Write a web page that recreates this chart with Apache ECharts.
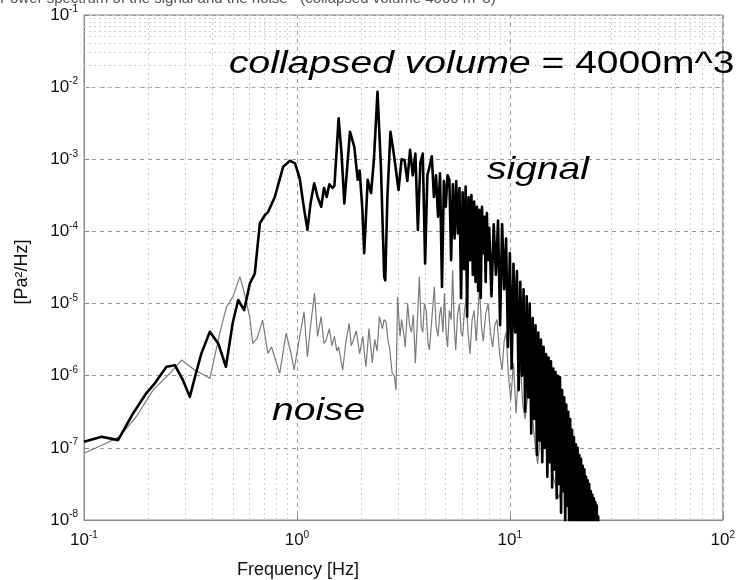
<!DOCTYPE html>
<html>
<head>
<meta charset="utf-8">
<script src="https://cdn.jsdelivr.net/npm/echarts@6/dist/echarts.min.js"></script>
<style>
html,body{margin:0;padding:0;background:#fff;}
#chart{width:738px;height:580px;}
</style>
</head>
<body>
<div id="chart"></div>
<script>
// ---- data (frequency in Hz, PSD in Pa^2/Hz) ----
const signalFreq = [
  0.1, 0.121, 0.1445, 0.17, 0.196, 0.215, 0.244, 0.267, 0.29, 0.314,
  0.336, 0.356, 0.39, 0.427, 0.464, 0.5, 0.53, 0.565, 0.601, 0.634,
  0.67, 0.708, 0.733, 0.788, 0.862, 0.927, 0.98, 1.03, 1.07, 1.12,
  1.16, 1.206, 1.25, 1.3, 1.34, 1.38, 1.42, 1.47, 1.5, 1.57,
  1.62, 1.67, 1.775, 1.86, 1.93, 1.97, 2.03, 2.07, 2.15, 2.23,
  2.3, 2.39, 2.48, 2.57, 2.6, 2.66, 2.75, 2.85, 2.92,
  3.0, 3.1, 3.2, 3.3, 3.4, 3.5, 3.6, 3.7, 3.8, 3.9,
  4.0, 4.1, 4.2, 4.3, 4.4, 4.5, 4.6, 4.7, 4.8, 4.9,
  5.0, 5.1, 5.2, 5.3, 5.4, 5.5, 5.6, 5.7, 5.8, 5.9,
  6.0, 6.1, 6.2, 6.3, 6.4, 6.5, 6.6, 6.7, 6.8, 6.9,
  7.0, 7.1, 7.2, 7.3, 7.4, 7.5, 7.6, 7.7, 7.8, 7.9,
  8.0, 8.2, 8.4, 8.6, 8.8, 9.0, 9.2, 9.4, 9.6, 9.8,
  10.0, 10.2, 10.4, 10.6, 10.8, 11.0, 11.2, 11.4, 11.6, 11.8,
  12.0, 12.2, 12.4, 12.6, 12.8, 13.0, 13.2, 13.4, 13.6, 13.8,
  14.0, 14.2, 14.4, 14.6, 14.8, 15.0, 15.2, 15.4, 15.6, 15.8,
  16.0, 16.2, 16.4, 16.6, 16.8, 17.0, 17.2, 17.4, 17.6, 17.8,
  18.0, 18.2, 18.4, 18.6, 18.8, 19.0, 19.2, 19.4, 19.6, 19.8,
  20.0, 20.2, 20.4, 20.6, 20.8, 21.0, 21.2, 21.4, 21.6, 21.8,
  22.0, 22.2, 22.4, 22.6, 22.8, 23.0, 23.2, 23.4, 23.6, 23.8,
  24.0, 24.2, 24.4, 24.6, 24.8, 25.0, 25.2, 25.4, 25.6, 25.8,
  26.0, 26.2, 26.4, 26.6
];
const signalPSD = [
  1.22e-7, 1.43e-7, 1.28e-7, 3.0e-7, 5.7e-7, 7.85e-7, 1.33e-6, 1.4e-6, 9.0e-7, 5.1e-7,
  1.1e-6, 2.04e-6, 4.07e-6, 2.8e-6, 1.33e-6, 5.5e-6, 1.12e-5, 8.1e-6, 1.9e-5, 2.6e-5,
  1.3e-4, 1.69e-4, 1.87e-4, 3.03e-4, 7.9e-4, 9.55e-4, 8.8e-4, 5.5e-4, 2.5e-4, 1.05e-4,
  2.5e-4, 4.65e-4, 3.0e-4, 2.2e-4, 4.0e-4, 3.0e-4, 4.5e-4, 4.0e-4, 4.3e-4, 3.7e-3,
  1.2e-3, 2.45e-4, 2.41e-3, 1.49e-3, 5.2e-4, 7.0e-4, 2.0e-4, 5.0e-5, 5.2e-4, 3.4e-4,
  1.0e-3, 8.6e-3, 8.0e-4, 2.36e-5, 2.1e-5, 3.0e-4, 2.41e-3, 1.2e-3, 7.0e-4,
  3.75e-4, 1.0e-3, 9.8e-4, 5.0e-4, 1.35e-3, 6.0e-4, 1.2e-3, 1.05e-4, 9.0e-4, 1.2e-3,
  3.6e-5, 6.0e-4, 8.0e-4, 1.1e-3, 3.0e-4, 6.0e-4, 1.6e-4, 6.4e-4, 1.7e-5, 5.0e-4,
  2.2e-4, 6.0e-4, 5.2e-4, 4.0e-5, 4.5e-4, 8.0e-5, 5.0e-4, 9.4e-5, 4.0e-4, 1.2e-5,
  3.5e-4, 3.0e-5, 4.2e-4, 6.6e-6, 3.0e-4, 4.0e-5, 3.2e-4, 2.5e-5, 2.6e-4, 2.0e-5,
  2.2e-4, 1.5e-5, 2.0e-4, 1.2e-5, 2.2e-4, 5.0e-5, 1.6e-4, 2.0e-5, 1.8e-4, 4.0e-5,
  1.12e-4, 1.26e-5, 1.26e-4, 2.51e-5, 1.41e-4, 5.01e-6, 1.26e-4, 1.58e-5, 7.94e-5, 2.51e-6,
  5.01e-5, 1.26e-6, 3.55e-5, 3.98e-6, 2.82e-5, 6.31e-7, 2.0e-5, 1.0e-6, 1.58e-5, 3.16e-7,
  1.26e-5, 5.01e-7, 1.0e-5, 1.58e-7, 6.31e-6, 2.51e-7, 5.01e-6, 7.94e-8, 3.98e-6, 1.26e-7,
  3.16e-6, 6.31e-8, 2.51e-6, 1.0e-7, 2.0e-6, 3.98e-8, 1.78e-6, 6.31e-8, 1.58e-6, 2.82e-8,
  1.26e-6, 5.01e-8, 1.12e-6, 2.0e-8, 1.0e-6, 3.16e-8, 9.5e-7, 1.26e-8, 6.31e-7, 2.51e-8,
  5.01e-7, 7.94e-9, 3.98e-7, 1.58e-8, 3.16e-7, 6.31e-9, 2.51e-7, 1.0e-8, 1.78e-7, 3.98e-9,
  1.41e-7, 7.94e-9, 1.12e-7, 3.16e-9, 1.0e-7, 5.01e-9, 7.94e-8, 2.51e-9, 7.08e-8, 3.98e-9,
  5.62e-8, 2.0e-9, 5.01e-8, 3.16e-9, 3.98e-8, 1.58e-9, 3.55e-8, 2.51e-9, 3.16e-8, 1.26e-9,
  2.51e-8, 2.0e-9, 2.24e-8, 1.0e-9, 2.0e-8, 1.58e-9, 1.78e-8, 7.94e-10, 1.58e-8, 1.26e-9,
  1.12e-8, 6.31e-10, 7.94e-9, 5.0e-10
];
const noiseFreq = [
  0.1, 0.127, 0.147, 0.176, 0.211, 0.253, 0.287, 0.331, 0.39, 0.434,
  0.467, 0.5, 0.54, 0.56, 0.6, 0.62, 0.65, 0.69, 0.73, 0.76,
  0.83, 0.89, 0.94, 0.97, 1.03, 1.08, 1.12, 1.16, 1.21, 1.25,
  1.3, 1.34, 1.37, 1.42, 1.46, 1.5, 1.54, 1.57, 1.64, 1.7,
  1.76, 1.8, 1.84, 1.9, 1.97, 2.04, 2.08, 2.11, 2.18, 2.26,
  2.32, 2.38, 2.44, 2.52, 2.57, 2.62, 2.68, 2.72, 2.8, 2.87,
  2.92, 2.97, 3.05, 3.1, 3.15, 3.23, 3.31, 3.38, 3.45, 3.52,
  3.6, 3.68, 3.76, 3.83, 3.9, 3.97, 4.05, 4.12, 4.19, 4.3,
  4.42, 4.5, 4.6, 4.68, 4.75, 4.85, 4.93, 5.02, 5.1, 5.2,
  5.3, 5.39, 5.48, 5.57, 5.68, 5.8, 5.9, 6.0, 6.12, 6.24,
  6.36, 6.5, 6.65, 6.8, 6.95, 7.2, 7.35, 7.5, 7.7, 7.9,
  8.1, 8.3, 8.5, 8.7, 8.95, 9.2, 9.4, 9.6, 9.85, 10.1,
  10.4, 10.7, 10.95, 11.2, 11.5, 11.8, 12.1, 12.5, 13.0, 13.5,
  14.2, 15.0, 16.0, 17.0, 18.0, 19.0
];
const noisePSD = [
  8.4e-8, 1.16e-7, 1.43e-7, 2.7e-7, 6.3e-7, 1.08e-6, 1.65e-6, 1.2e-6, 9.2e-7, 3.87e-6,
  9.05e-6, 1.24e-5, 2.36e-5, 1.6e-5, 6.6e-6, 2.8e-6, 3.3e-6, 5.9e-6, 2.04e-6, 2.5e-6,
  1.08e-6, 3.87e-6, 2.0e-6, 1.2e-6, 3.47e-6, 7.7e-6, 1.84e-6, 5.0e-6, 1.39e-5, 3.5e-6,
  6.6e-6, 2.8e-6, 3.1e-6, 4.5e-6, 2.6e-6, 3.5e-6, 2.2e-6, 2.5e-6, 1.2e-6, 3.0e-6,
  5.3e-6, 2.6e-6, 3.1e-6, 4.2e-6, 2.0e-6, 3.5e-6, 1.9e-6, 1.33e-6, 4.5e-6, 1.5e-6,
  3.2e-6, 2.2e-6, 6.6e-6, 4.5e-6, 6.0e-6, 5.6e-6, 3.0e-6, 2.5e-6, 1.1e-6, 9.7e-7,
  6.3e-7, 1.24e-5, 3.5e-6, 6.0e-6, 4.5e-6, 2.5e-6, 1.0e-5, 5.0e-6, 4.0e-6, 7.0e-6,
  1.49e-6, 6.0e-6, 2.36e-5, 5.0e-6, 4.0e-6, 1.0e-5, 8.0e-6, 3.0e-6, 2.27e-6, 6.0e-6,
  1.71e-5, 5.0e-6, 3.5e-6, 7.0e-6, 9.0e-6, 4.0e-6, 1.39e-5, 4.0e-6, 2.5e-6, 8.0e-6,
  6.0e-6, 2.9e-5, 5.0e-6, 2.27e-6, 7.0e-6, 1.0e-5, 4.0e-6, 3.5e-6, 8.0e-6, 1.2e-5,
  4.0e-6, 2.0e-6, 6.0e-6, 8.0e-6, 3.0e-6, 1.71e-5, 5.0e-6, 3.0e-6, 7.0e-6, 1.0e-5,
  4.0e-6, 2.5e-6, 5.0e-6, 6.0e-6, 2.0e-6, 1.2e-6, 3.0e-6, 4.0e-6, 1.0e-6, 4.6e-7,
  1.5e-6, 3.0e-7, 1.0e-6, 1.5e-6, 4.0e-7, 2.5e-7, 5.0e-7, 6.0e-7, 1.5e-7, 6.0e-8,
  2.5e-7, 1.5e-7, 4.0e-8, 2.0e-8, 5.0e-8, 1.5e-8
];
const xTicks = [0.1, 1, 10, 100];
const yTicks = [1e-8, 1e-7, 1e-6, 1e-5, 1e-4, 1e-3, 1e-2, 1e-1];
const titleText = 'Power spectrum of the signal and the noise   (collapsed volume 4000 m^3)';
const annotMain = ['collapsed volume', ' = 4000m^3'];
const annotSignal = 'signal';
const annotNoise = 'noise';
const xName = 'Frequency [Hz]';
const yName = '[Pa\u00b2/Hz]';

// ---- build ----
const zip = (a, b) => a.map((v, i) => [v, b[i]]);
const signalData = zip(signalFreq, signalPSD);
const noiseData = zip(noiseFreq, noisePSD);

// minor grid lines at 2..9 x each decade (positioned by axis scale)
const minorLines = [];
for (let i = 0; i < xTicks.length - 1; i++) {
  for (let k = 2; k <= 9; k++) minorLines.push({ xAxis: xTicks[i] * k });
}
for (let i = 0; i < yTicks.length - 1; i++) {
  for (let k = 2; k <= 9; k++) minorLines.push({ yAxis: yTicks[i] * k });
}

const FONT = 'Liberation Sans, Arial, sans-serif';
const expLabel = v => {
  const e = Math.round(Math.log10(v));
  return '{b|10}{s|' + e + '}';
};
const labelRich = {
  b: { fontSize: 17, fontFamily: FONT, color: '#111' },
  s: { fontSize: 10, fontFamily: FONT, color: '#111', padding: [0, 0, 11, 0] }
};

const chart = echarts.init(document.getElementById('chart'), null, { renderer: 'canvas' });
chart.setOption({
  backgroundColor: '#fff',
  animation: false,
  grid: {
    left: 84, top: 15, right: 15, bottom: 60,
    show: true, borderColor: '#8a8a8a', borderWidth: 1, backgroundColor: 'transparent'
  },
  xAxis: {
    type: 'log', logBase: 10, min: 0.1, max: 100,
    axisLine: { show: true, lineStyle: { color: '#8a8a8a' } },
    axisTick: { show: true, inside: true, length: 5, lineStyle: { color: '#8a8a8a' } },
    axisLabel: { formatter: expLabel, rich: labelRich, margin: 10 },
    splitLine: { show: true, lineStyle: { color: '#9a9a9a', type: [4, 4], width: 1 } }
  },
  yAxis: {
    type: 'log', logBase: 10, min: 1e-8, max: 1e-1,
    axisLine: { show: true, lineStyle: { color: '#8a8a8a' } },
    axisTick: { show: true, inside: true, length: 5, lineStyle: { color: '#8a8a8a' } },
    axisLabel: { formatter: expLabel, rich: labelRich, margin: 6 },
    splitLine: { show: true, lineStyle: { color: '#9a9a9a', type: [4, 4], width: 1 } }
  },
  series: [
    {
      name: 'noise', type: 'line', data: noiseData, showSymbol: false, symbol: 'none',
      z: 3, clip: true,
      lineStyle: { color: '#7a7a7a', width: 1.2 },
      markLine: {
        silent: true, symbol: 'none', label: { show: false }, animation: false, z: 1,
        lineStyle: { color: '#cfcfcf', type: [2, 3], width: 1 },
        data: minorLines
      }
    },
    {
      name: 'signal', type: 'line', data: signalData, showSymbol: false, symbol: 'none',
      z: 4, clip: true,
      lineStyle: { color: '#000', width: 2.6, join: 'round' }
    }
  ],
  graphic: [
    {
      type: 'text', left: 0, top: -9, z: 10,
      style: { text: titleText, font: '15px ' + FONT, fill: '#555' }
    },
    {
      type: 'text', x: 229, y: 80, scaleX: 1.22, z: 10,
      style: {
        text: '{i|' + annotMain[0] + '}{n|' + annotMain[1] + '}',
        textVerticalAlign: 'bottom', verticalAlign: 'bottom',
        rich: {
          i: { fontSize: 32, fontStyle: 'italic', fontFamily: FONT, fill: '#000' },
          n: { fontSize: 32, fontFamily: FONT, fill: '#000' }
        }
      }
    },
    {
      type: 'text', x: 487, y: 186, scaleX: 1.22, z: 10,
      style: { text: annotSignal, font: 'italic 32px ' + FONT, fill: '#000', verticalAlign: 'bottom' }
    },
    {
      type: 'text', x: 272, y: 427, scaleX: 1.22, z: 10,
      style: { text: annotNoise, font: 'italic 32px ' + FONT, fill: '#000', verticalAlign: 'bottom' }
    },
    {
      type: 'text', x: 298, y: 570, z: 10,
      style: { text: xName, font: '18px ' + FONT, fill: '#111', align: 'center', verticalAlign: 'middle' }
    },
    {
      type: 'text', x: 22, y: 272, rotation: Math.PI / 2, z: 10,
      style: { text: yName, font: '18px ' + FONT, fill: '#111', align: 'center', verticalAlign: 'middle' }
    }
  ]
});
</script>
</body>
</html>
